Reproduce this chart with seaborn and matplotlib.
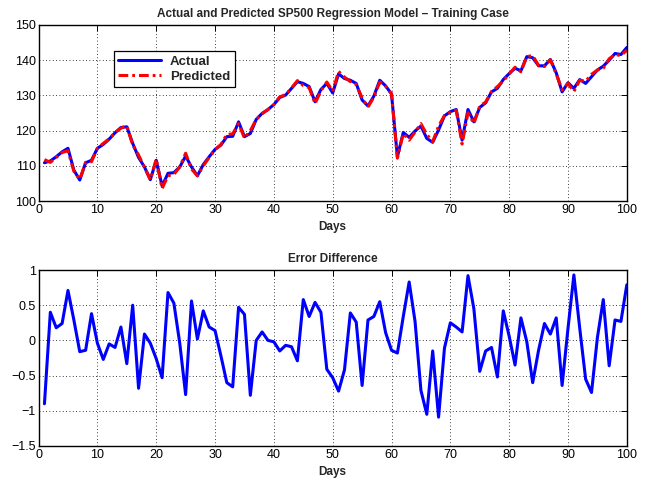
import matplotlib
matplotlib.use("Agg")
import matplotlib.pyplot as plt
import seaborn as sns
import pandas as pd

days = list(range(1, 101))

actual = [110.9, 111.4, 112.6, 114.0, 115.0, 108.8, 106.0, 110.9, 111.6, 115.0,
          116.1, 117.6, 119.4, 120.9, 121.1, 116.4, 112.4, 109.7, 106.1, 111.6,
          104.3, 107.9, 108.1, 109.7, 112.8, 109.7, 107.2, 110.4, 112.6, 114.7,
          115.9, 118.3, 118.4, 122.5, 118.3, 119.2, 123.2, 124.9, 126.0, 127.4,
          129.4, 130.1, 132.0, 133.9, 133.4, 132.5, 128.2, 131.7, 133.4, 130.7,
          136.1, 134.8, 134.3, 133.4, 128.7, 127.0, 129.8, 134.3, 132.7, 130.4,
          112.6, 119.5, 118.1, 119.9, 121.3, 117.8, 116.7, 120.2, 124.2, 125.4,
          126.0, 117.3, 126.0, 122.5, 126.6, 127.9, 131.0, 132.0, 134.5, 136.2,
          137.7, 137.0, 141.0, 140.7, 138.4, 138.4, 140.2, 136.4, 131.0, 133.6,
          132.0, 134.5, 133.4, 135.3, 137.2, 138.3, 140.0, 141.9, 141.6, 143.6]

predicted = [111.8, 111.0, 112.4, 113.8, 114.3, 108.5, 106.2, 111.0, 111.2, 115.0,
             116.4, 117.7, 119.5, 120.7, 121.4, 115.9, 113.1, 109.6, 106.1, 111.9,
             103.6, 107.2, 107.6, 109.7, 113.6, 109.1, 107.2, 110.0, 112.4, 114.6,
             116.1, 118.9, 119.1, 122.0, 117.9, 120.0, 123.2, 124.8, 126.0, 127.4,
             129.6, 130.2, 132.1, 134.2, 132.8, 132.2, 127.7, 131.3, 133.8, 131.2,
             136.8, 135.2, 133.9, 133.1, 129.3, 126.7, 129.5, 133.8, 132.6, 130.5,
             112.2, 119.2, 117.3, 119.6, 122.0, 118.9, 116.9, 121.3, 124.3, 125.2,
             125.8, 116.2, 125.1, 122.0, 127.0, 128.1, 131.1, 132.5, 134.1, 136.1,
             138.0, 136.7, 141.0, 141.3, 138.5, 138.2, 140.1, 136.1, 131.6, 133.4,
             131.1, 134.3, 134.0, 136.0, 137.2, 137.7, 140.4, 141.6, 141.3, 142.8]

error = [-0.90, 0.40, 0.18, 0.24, 0.71, 0.29, -0.16, -0.14, 0.38, -0.04,
         -0.27, -0.05, -0.10, 0.19, -0.33, 0.50, -0.68, 0.09, -0.04, -0.26,
         -0.53, 0.68, 0.53, -0.04, -0.77, 0.56, 0.02, 0.42, 0.19, 0.14,
         -0.22, -0.60, -0.66, 0.47, 0.37, -0.78, 0.00, 0.12, 0.00, -0.02,
         -0.15, -0.07, -0.09, -0.29, 0.58, 0.34, 0.54, 0.40, -0.41, -0.53,
         -0.72, -0.42, 0.39, 0.26, -0.64, 0.29, 0.34, 0.55, 0.11, -0.14,
         -0.18, 0.34, 0.83, 0.27, -0.71, -1.05, -0.15, -1.09, -0.11, 0.25,
         0.19, 0.12, 0.92, 0.45, -0.44, -0.15, -0.10, -0.52, 0.42, 0.06,
         -0.35, 0.32, -0.02, -0.60, -0.14, 0.24, 0.09, 0.32, -0.64, 0.17,
         0.93, 0.17, -0.55, -0.74, 0.04, 0.58, -0.36, 0.29, 0.27, 0.79]

x_ticks = [0, 10, 20, 30, 40, 50, 60, 70, 80, 90, 100]
top_yticks = [100, 110, 120, 130, 140, 150]
bot_yticks = [-1.5, -1, -0.5, 0, 0.5, 1]
bot_yticklabels = ["\u22121.5", "\u22121", "\u22120.5", "0", "0.5", "1"]

top_title = "Actual and Predicted SP500 Regression Model \u2013 Training Case"
bot_title = "Error Difference"
xlabel = "Days"

sns.set_style("white")
plt.rcParams["font.family"] = ["Liberation Sans", "DejaVu Sans"]

df = pd.DataFrame({"day": days, "actual": actual, "predicted": predicted, "error": error})

fig = plt.figure(figsize=(6.45, 4.79), dpi=100)
ax1 = fig.add_axes([0.0598, 0.580, 0.912, 0.368])
ax2 = fig.add_axes([0.0598, 0.0689, 0.912, 0.3674])

sns.lineplot(data=df, x="day", y="actual", ax=ax1, color="#0000ff", linewidth=2.2,
             label="Actual")
sns.lineplot(data=df, x="day", y="predicted", ax=ax1, color="#ff0000", linewidth=2.2,
             linestyle=(0, (3.2, 1.3, 0.9, 1.3)), label="Predicted")
sns.lineplot(data=df, x="day", y="error", ax=ax2, color="#0000ff", linewidth=2.2,
             legend=False)

for ax in (ax1, ax2):
    ax.set_xlim(0, 100)
    ax.set_xticks(x_ticks)
    ax.grid(True, linestyle=(0, (1, 3)), color="black", linewidth=0.6)
    ax.tick_params(direction="in", top=True, right=True, length=4, width=0.7,
                   labelsize=9, pad=2, colors="black")
    for s in ax.spines.values():
        s.set_color("black")
        s.set_linewidth(1.0)
    ax.set_xlabel(xlabel, fontsize=8.5, fontweight="bold", labelpad=3.5)
    ax.set_ylabel("")

ax1.set_ylim(100, 150)
ax1.set_yticks(top_yticks)
ax1.set_title(top_title, fontsize=8.5, fontweight="bold", pad=6)

ax2.set_ylim(-1.5, 1)
ax2.set_yticks(bot_yticks)
ax2.set_yticklabels(bot_yticklabels)
ax2.set_title(bot_title, fontsize=8.5, fontweight="bold", pad=6)

leg = ax1.legend(loc="upper left", bbox_to_anchor=(0.128, 0.852), borderaxespad=0,
                 fancybox=False, framealpha=1, edgecolor="black",
                 prop={"weight": "bold", "size": 9.5}, handlelength=3.2,
                 borderpad=0.35, labelspacing=0.2, handletextpad=0.7)
leg.get_frame().set_linewidth(0.9)

fig.savefig("out.png", dpi=100)
